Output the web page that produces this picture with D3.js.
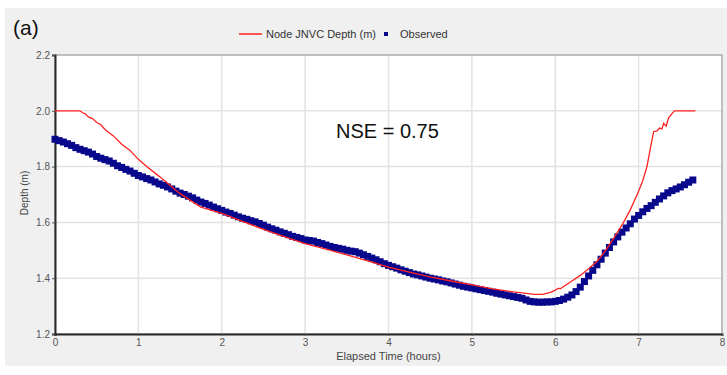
<!DOCTYPE html>
<html>
<head>
<meta charset="utf-8">
<script src="https://cdn.jsdelivr.net/npm/d3@7"></script>
<style>
  html, body { margin: 0; padding: 0; background: #ffffff; }
  svg { display: block; font-family: "Liberation Sans", Arial, sans-serif; }
</style>
</head>
<body>
<svg id="chart" width="727" height="375"></svg>
<script>
// Simulated node depth (SWMM node JNVC), hours vs metres
const modelTime = [0, 0.30, 0.33, 0.36, 0.40, 0.45, 0.50, 0.55, 0.60, 0.70, 0.80, 0.90, 1.00, 1.10, 1.25, 1.40, 1.50,
  1.75, 2.00, 2.25, 2.50, 2.75, 3.00, 3.25, 3.50, 3.75, 4.00, 4.25, 4.50, 4.75, 5.00, 5.25, 5.50, 5.75, 5.85,
  5.95, 6.00, 6.04, 6.06, 6.20, 6.30, 6.40, 6.50, 6.60, 6.70, 6.80, 6.90, 7.00, 7.05, 7.10, 7.15, 7.18, 7.22,
  7.25, 7.28, 7.30, 7.33, 7.36, 7.40, 7.43, 7.68];
const modelDepth = [2.000, 2.000, 1.993, 1.990, 1.978, 1.972, 1.958, 1.950, 1.933, 1.910, 1.880, 1.858, 1.826, 1.800, 1.765, 1.728, 1.703,
  1.655, 1.632, 1.604, 1.575, 1.549, 1.524, 1.504, 1.484, 1.462, 1.440, 1.422, 1.405, 1.390, 1.376, 1.362, 1.351, 1.342, 1.342,
  1.350, 1.357, 1.364, 1.362, 1.390, 1.410, 1.434, 1.460, 1.498, 1.543, 1.590, 1.645, 1.712, 1.750, 1.800, 1.880, 1.925, 1.928,
  1.938, 1.935, 1.955, 1.945, 1.975, 1.990, 2.000, 2.000];

// Observed depth, logged every 3 minutes from t = 0 h
const obsIntervalHours = 0.05;
const observedDepth = [
  1.898, 1.893, 1.888, 1.882, 1.876, 1.868, 1.862, 1.857, 1.852, 1.845,
  1.836, 1.830, 1.825, 1.820, 1.812, 1.803, 1.797, 1.790, 1.784, 1.776,
  1.768, 1.763, 1.757, 1.752, 1.745, 1.738, 1.733, 1.727, 1.720, 1.712,
  1.705, 1.700, 1.694, 1.688, 1.680, 1.673, 1.668, 1.662, 1.655, 1.649,
  1.643, 1.637, 1.632, 1.626, 1.620, 1.615, 1.611, 1.606, 1.602, 1.596,
  1.590, 1.583, 1.577, 1.572, 1.566, 1.561, 1.556, 1.550, 1.546, 1.542,
  1.537, 1.535, 1.533, 1.528, 1.524, 1.519, 1.514, 1.510, 1.507, 1.504,
  1.500, 1.497, 1.495, 1.490, 1.484, 1.478, 1.472, 1.466, 1.459, 1.452,
  1.446, 1.441, 1.436, 1.430, 1.425, 1.420, 1.415, 1.412, 1.408, 1.404,
  1.400, 1.397, 1.394, 1.390, 1.387, 1.383, 1.379, 1.375, 1.371, 1.368,
  1.365, 1.362, 1.359, 1.356, 1.353, 1.350, 1.346, 1.343, 1.340, 1.337,
  1.334, 1.331, 1.328, 1.322, 1.317, 1.315, 1.314, 1.314, 1.315, 1.315,
  1.317, 1.320, 1.325, 1.332, 1.340, 1.352, 1.368, 1.388, 1.408, 1.428,
  1.448, 1.468, 1.490, 1.510, 1.530, 1.548, 1.565, 1.580, 1.595, 1.612,
  1.625, 1.638, 1.650, 1.660, 1.672, 1.684, 1.695, 1.706, 1.714, 1.720,
  1.727, 1.735, 1.744, 1.752];

const xTicks = [0, 1, 2, 3, 4, 5, 6, 7, 8];
const yTicks = [1.2, 1.4, 1.6, 1.8, 2.0, 2.2];
const seriesNames = ["Node JNVC Depth (m)", "Observed"];
const nseLabel = "NSE = 0.75";
const panelLabel = "(a)";

const svg = d3.select("#chart");
const plot = { left: 55, right: 722, top: 55, bottom: 334 };

// Grey panel behind the chart
svg.append("rect").attr("x", 5).attr("y", 8).attr("width", 722).attr("height", 358).attr("fill", "#f0f0f0");

const x = d3.scaleLinear().domain([0, 8]).range([plot.left, plot.right]);
const y = d3.scaleLinear().domain([1.2, 2.2]).range([plot.bottom, plot.top]);

svg.append("rect")
  .attr("x", plot.left).attr("y", plot.top)
  .attr("width", plot.right - plot.left).attr("height", plot.bottom - plot.top)
  .attr("fill", "#ffffff");

// Grid
const grid = svg.append("g").attr("stroke", "#e3e3e3").attr("stroke-width", 1.5);
grid.selectAll("line.v").data(xTicks.slice(1, -1)).join("line")
  .attr("x1", d => x(d)).attr("x2", d => x(d)).attr("y1", plot.top).attr("y2", plot.bottom);
grid.selectAll("line.h").data(yTicks.slice(1, -1)).join("line")
  .attr("y1", d => y(d)).attr("y2", d => y(d)).attr("x1", plot.left).attr("x2", plot.right);

// Frame: light top/right, dark axes
svg.append("rect")
  .attr("x", plot.left).attr("y", plot.top)
  .attr("width", plot.right - plot.left).attr("height", plot.bottom - plot.top)
  .attr("fill", "none").attr("stroke", "#9a9a9a").attr("stroke-width", 1.2);

const xAxis = svg.append("g").attr("transform", `translate(0,${plot.bottom})`)
  .call(d3.axisBottom(x).tickValues(xTicks).tickFormat(d3.format("d")).tickSize(2).tickPadding(3));
const yAxis = svg.append("g").attr("transform", `translate(${plot.left},0)`)
  .call(d3.axisLeft(y).tickValues(yTicks).tickFormat(d3.format(".1f")).tickSize(3).tickPadding(2));
[xAxis, yAxis].forEach(ax => {
  ax.select(".domain").attr("stroke", "#2a2a2a").attr("stroke-width", 2);
  ax.selectAll(".tick line").attr("stroke", "#555");
  ax.selectAll(".tick text").attr("fill", "#555").attr("font-size", 10)
    .attr("font-family", "'Liberation Sans', Arial, sans-serif");
});

// Observed markers
const observed = observedDepth.map((v, i) => ({ t: i * obsIntervalHours, v }));
svg.append("g").attr("fill", "#08088c")
  .selectAll("rect").data(observed).join("rect")
  .attr("x", d => x(d.t) - 3.5).attr("y", d => y(d.v) - 3.5)
  .attr("width", 7).attr("height", 7);

// Model line
const model = modelTime.map((t, i) => ({ t, v: modelDepth[i] }));
svg.append("path").datum(model)
  .attr("fill", "none").attr("stroke", "#ff2222").attr("stroke-width", 1.3)
  .attr("d", d3.line().x(d => x(d.t)).y(d => y(d.v)));

// Legend
const lg = svg.append("g").attr("font-size", 11).attr("fill", "#333");
lg.append("line").attr("x1", 239).attr("x2", 262).attr("y1", 34).attr("y2", 34)
  .attr("stroke", "#ff2222").attr("stroke-width", 1.5);
lg.append("text").attr("x", 266).attr("y", 38).text(seriesNames[0]);
lg.append("rect").attr("x", 384).attr("y", 32).attr("width", 4).attr("height", 4).attr("fill", "#08088c");
lg.append("text").attr("x", 400).attr("y", 38).text(seriesNames[1]);

// Axis titles
svg.append("text").attr("x", x(4)).attr("y", 360).attr("text-anchor", "middle")
  .attr("font-size", 11).attr("fill", "#444").text("Elapsed Time (hours)");
svg.append("text").attr("transform", "translate(28,193) rotate(-90)").attr("text-anchor", "middle")
  .attr("font-size", 10).attr("fill", "#444").text("Depth (m)");

// Annotations
svg.append("text").attr("x", 336).attr("y", 138).attr("font-size", 20).attr("fill", "#111")
  .attr("font-family", "'Liberation Sans', Arial, sans-serif").text(nseLabel);
svg.append("text").attr("x", 13).attr("y", 35).attr("font-size", 21).attr("fill", "#111")
  .attr("font-family", "'Liberation Sans', Arial, sans-serif").text(panelLabel);
</script>
</body>
</html>
